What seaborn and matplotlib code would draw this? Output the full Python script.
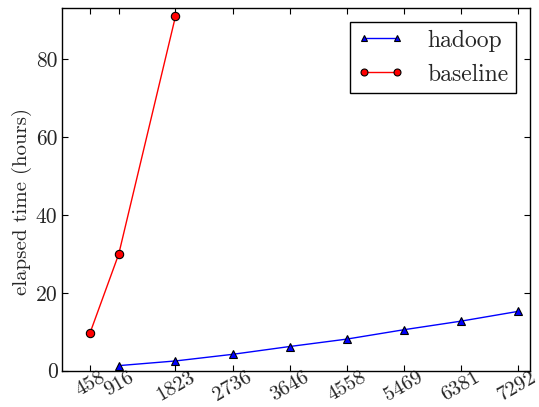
import matplotlib
matplotlib.use("Agg")
import matplotlib.pyplot as plt
import seaborn as sns
import pandas as pd

sizes = [458, 916, 1823, 2736, 3646, 4558, 5469, 6381, 7292]
hadoop_x = [916, 1823, 2736, 3646, 4558, 5469, 6381, 7292]
hadoop_y = [1.3, 2.5, 4.2, 6.2, 8.1, 10.5, 12.7, 15.2]
baseline_x = [458, 916, 1823]
baseline_y = [9.7, 29.9, 90.9]
tick_labels = [str(s) for s in sizes]

sns.set_style("ticks")
plt.rcParams["font.family"] = ["cmr10", "DejaVu Serif"]
plt.rcParams["mathtext.fontset"] = "cm"
plt.rcParams["axes.formatter.use_mathtext"] = True

fig = plt.figure(figsize=(5.39, 4.07), dpi=100)
ax = fig.add_axes([0.1145, 0.0892, 0.9833 - 0.1145, 0.9796 - 0.0892])

dh = pd.DataFrame({"x": hadoop_x, "y": hadoop_y})
db = pd.DataFrame({"x": baseline_x, "y": baseline_y})
sns.lineplot(data=dh, x="x", y="y", ax=ax, color="blue", marker="^", markersize=6,
             markeredgecolor="black", markeredgewidth=0.8, linewidth=1.0, label="hadoop")
sns.lineplot(data=db, x="x", y="y", ax=ax, color="red", marker="o", markersize=6,
             markeredgecolor="black", markeredgewidth=0.8, linewidth=1.0, label="baseline")

ax.set_xlim(5, 7490)
ax.set_ylim(0, 93)
ax.set_xticks(sizes)
ax.set_xticklabels(tick_labels, rotation=30, fontsize=15)
ax.set_yticks([0, 20, 40, 60, 80])
ax.set_yticklabels(["0", "20", "40", "60", "80"], fontsize=15.5)
ax.set_xlabel("")
ax.set_ylabel("elapsed time (hours)", fontsize=15)
ax.yaxis.set_label_coords(-0.063, 0.466)
ax.tick_params(direction="in", top=True, right=True, length=4, width=0.8, color="black")
ax.tick_params(axis="x", pad=-2)
ax.tick_params(axis="y", pad=3)
for s in ax.spines.values():
    s.set_color("black")
    s.set_linewidth(1.0)

leg = ax.legend(loc="upper right", numpoints=2, fontsize=17, frameon=True, fancybox=False,
                edgecolor="black", framealpha=1, borderpad=0.3, handlelength=2.0,
                handletextpad=1.0, labelspacing=0.5, borderaxespad=0.6)
leg.get_frame().set_linewidth(1.0)
for h in leg.legend_handles:
    h.set_markersize(5)

fig.savefig("out.png", dpi=100)
